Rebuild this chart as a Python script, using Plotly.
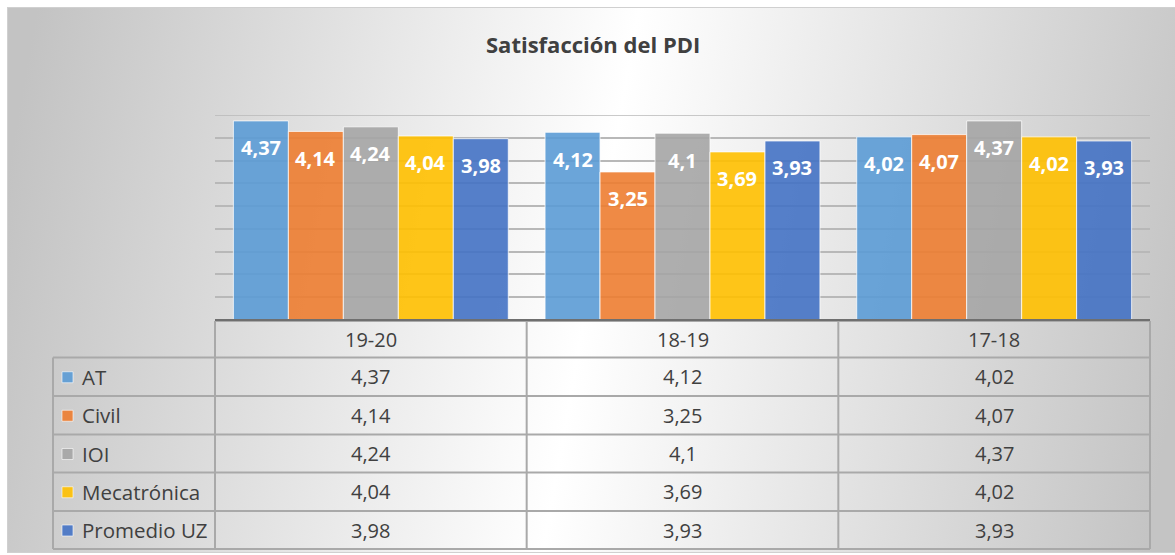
import base64
import plotly.graph_objects as go

# ---- data -------------------------------------------------------------
title = "Satisfacción del PDI"
years = ["19-20", "18-19", "17-18"]
series_names = ["AT", "Civil", "IOI", "Mecatrónica", "Promedio UZ"]
at = [4.37, 4.12, 4.02]
civil = [4.14, 3.25, 4.07]
ioi = [4.24, 4.10, 4.37]
mecatronica = [4.04, 3.69, 4.02]
promedio_uz = [3.98, 3.93, 3.93]
series_values = [at, civil, ioi, mecatronica, promedio_uz]

colors = ["rgba(91,155,213,0.9)", "rgba(237,125,49,0.9)", "rgba(165,165,165,0.9)",
          "rgba(255,192,0,0.9)", "rgba(68,114,196,0.9)"]

W, H = 1175, 555
FONT = "Open Sans"
TXT = "#404040"
Y_MAX = 4.5


def px(x):
    return x / W


def py(y):
    return 1 - y / H


def fmt(v):
    return f"{v:g}".replace(".", ",")


# ---- layout geometry (pixels) ----------------------------------------
plot_l, plot_r = 215, 1150
plot_t, plot_b = 115, 320
label_l = 53
row_lines = [321, 357.5, 396, 434.5, 472.5, 511, 549]

bargap = 0.118
n = len(series_names)
bar_w = (1 - bargap) / n

fig = go.Figure()
for i, (name, vals) in enumerate(zip(series_names, series_values)):
    fig.add_trace(go.Bar(
        x=list(range(len(years))), y=vals, name=name,
        marker=dict(color=colors[i], line=dict(color="rgba(255,255,255,0.75)", width=1)),
        hoverinfo="y+name",
    ))

annotations = []
# value labels inside the top of each bar
for i, vals in enumerate(series_values):
    for g, v in enumerate(vals):
        annotations.append(dict(
            x=g + (i - (n - 1) / 2) * bar_w, y=v, xref="x", yref="y",
            text=f"<b>{fmt(v)}</b>", showarrow=False, yshift=-27, yanchor="middle",
            font=dict(family=FONT, size=20, color="white"),
        ))

# title
annotations.append(dict(
    x=px(593), y=py(44), xref="paper", yref="paper", text=f"<b>{title}</b>",
    showarrow=False, xanchor="center", yanchor="middle",
    font=dict(family=FONT, size=22, color=TXT),
))

# data table
col_w = (plot_r - plot_l) / len(years)
col_centers = [plot_l + col_w * (k + 0.5) for k in range(len(years))]
header_y = (row_lines[0] + row_lines[1]) / 2
for k, yr in enumerate(years):
    annotations.append(dict(
        x=px(col_centers[k]), y=py(header_y), xref="paper", yref="paper", text=yr,
        showarrow=False, xanchor="center", yanchor="middle",
        font=dict(family=FONT, size=20, color=TXT),
    ))

shapes = []
for r, (name, vals) in enumerate(zip(series_names, series_values)):
    yc = (row_lines[r + 1] + row_lines[r + 2]) / 2
    annotations.append(dict(
        x=px(80), y=py(yc), xref="paper", yref="paper", text=name,
        showarrow=False, xanchor="left", yanchor="middle",
        font=dict(family=FONT, size=20.5, color=TXT),
    ))
    shapes.append(dict(
        type="rect", xref="paper", yref="paper",
        x0=px(62), x1=px(73), y0=py(yc - 5), y1=py(yc + 6),
        fillcolor=colors[r], line=dict(color="rgba(255,255,255,0.6)", width=1),
    ))
    for k, v in enumerate(vals):
        annotations.append(dict(
            x=px(col_centers[k]), y=py(yc), xref="paper", yref="paper", text=fmt(v),
            showarrow=False, xanchor="center", yanchor="middle",
            font=dict(family=FONT, size=20, color=TXT),
        ))

grid_col = "#a9a9a9"
# horizontal table rules
for j, yl in enumerate(row_lines):
    x0 = plot_l if j == 0 else label_l
    shapes.append(dict(type="line", xref="paper", yref="paper",
                       x0=px(x0), x1=px(plot_r), y0=py(yl), y1=py(yl),
                       line=dict(color=grid_col, width=2)))
# vertical table rules
shapes.append(dict(type="line", xref="paper", yref="paper",
                   x0=px(label_l), x1=px(label_l), y0=py(row_lines[1]), y1=py(row_lines[-1]),
                   line=dict(color=grid_col, width=2)))
for k in range(len(years) + 1):
    xv = plot_l + col_w * k
    shapes.append(dict(type="line", xref="paper", yref="paper",
                       x0=px(xv), x1=px(xv), y0=py(row_lines[0]), y1=py(row_lines[-1]),
                       line=dict(color=grid_col, width=2)))
# category axis line
shapes.append(dict(type="line", xref="paper", yref="paper",
                   x0=px(plot_l), x1=px(plot_r), y0=py(plot_b), y1=py(plot_b),
                   line=dict(color="#6f6f6f", width=2)))
# top gridline at the axis maximum
shapes.append(dict(type="line", xref="x domain", yref="y", x0=0, x1=1, y0=Y_MAX, y1=Y_MAX,
                   line=dict(color="#b8b8b8", width=1.5), layer="below"))

# chart-area background: soft grey-white-grey gradient with a thin border
cw, ch = 1168, 546
svg = f"""<svg xmlns='http://www.w3.org/2000/svg' width='{cw}' height='{ch}' viewBox='0 0 {cw} {ch}' preserveAspectRatio='none'>
<defs><linearGradient id='g' gradientUnits='userSpaceOnUse' x1='0' y1='170' x2='{cw}' y2='376'>
<stop offset='0' stop-color='#c3c3c3'/><stop offset='0.5' stop-color='#ffffff'/><stop offset='1' stop-color='#c4c4c4'/>
</linearGradient></defs>
<rect x='0' y='0' width='{cw}' height='{ch}' fill='url(#g)'/>
<rect x='0.5' y='0.5' width='{cw + 5}' height='{ch - 1}' fill='none' stroke='#d0d0d0' stroke-width='1'/>
</svg>"""
bg_src = "data:image/svg+xml;base64," + base64.b64encode(svg.encode()).decode()

fig.update_layout(
    width=W, height=H, margin=dict(l=0, r=0, t=0, b=0),
    paper_bgcolor="white", plot_bgcolor="rgba(0,0,0,0)",
    barmode="group", bargap=bargap, bargroupgap=0,
    showlegend=False,
    font=dict(family=FONT, color=TXT),
    xaxis=dict(domain=[px(plot_l), px(plot_r)], range=[-0.5, len(years) - 0.5],
               showticklabels=False, showgrid=False, zeroline=False, fixedrange=True),
    yaxis=dict(domain=[py(plot_b), py(plot_t)], range=[0, Y_MAX], dtick=0.5,
               showticklabels=False, showgrid=True, gridcolor="#b8b8b8", gridwidth=1.5,
               zeroline=False, fixedrange=True),
    annotations=annotations,
    shapes=shapes,
    images=[dict(source=bg_src, xref="paper", yref="paper", x=px(7), y=py(7),
                 sizex=px(7 + cw) - px(7), sizey=py(7) - py(7 + ch),
                 xanchor="left", yanchor="top", sizing="stretch", layer="below")],
)

fig.write_html("out.html")
